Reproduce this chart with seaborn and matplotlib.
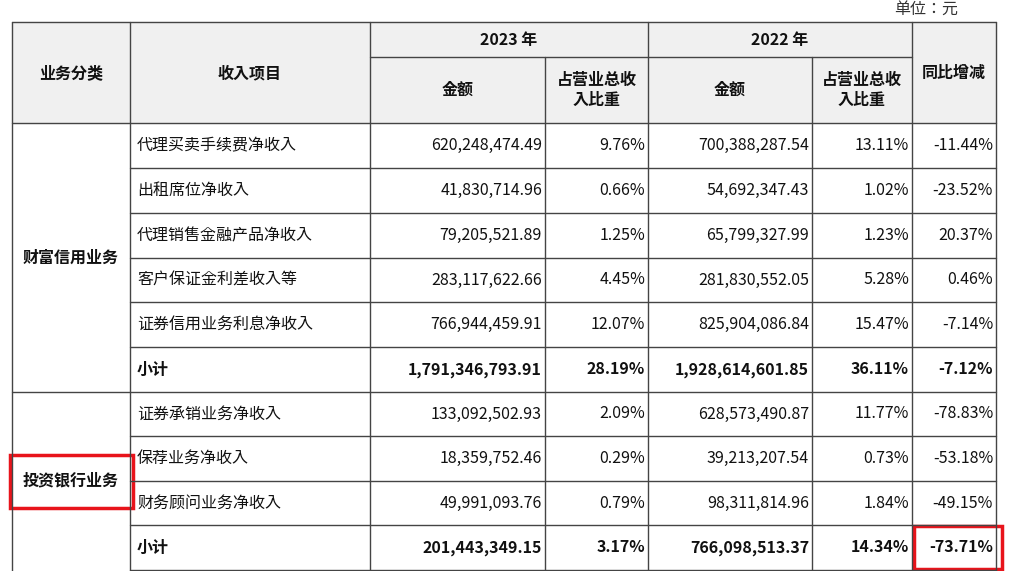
import matplotlib
matplotlib.use("Agg")
import matplotlib.pyplot as plt
from matplotlib.patches import Rectangle
from matplotlib import font_manager as fm
import seaborn as sns

sns.set_style("white")
cands = [f for f in fm.findSystemFonts() if "CJK" in f or "cjk" in f.lower()]
for f in cands:
    try:
        fm.fontManager.addfont(f)
    except Exception:
        pass
names = {fm.FontProperties(fname=f).get_name() for f in cands}
FONT = [n for n in ["Noto Sans CJK SC", "Noto Sans CJK JP", "Noto Sans CJK TC", "Noto Sans CJK KR"] if n in names] or ["Noto Sans CJK SC"]
FONT = FONT + ["DejaVu Sans"]
plt.rcParams["font.family"] = FONT

items = ["代理买卖手续费净收入", "出租席位净收入", "代理销售金融产品净收入", "客户保证金利差收入等",
         "证券信用业务利息净收入", "小计", "证券承销业务净收入", "保荐业务净收入", "财务顾问业务净收入", "小计"]
amt_2023 = ["620,248,474.49", "41,830,714.96", "79,205,521.89", "283,117,622.66", "766,944,459.91",
            "1,791,346,793.91", "133,092,502.93", "18,359,752.46", "49,991,093.76", "201,443,349.15"]
pct_2023 = ["9.76%", "0.66%", "1.25%", "4.45%", "12.07%", "28.19%", "2.09%", "0.29%", "0.79%", "3.17%"]
amt_2022 = ["700,388,287.54", "54,692,347.43", "65,799,327.99", "281,830,552.05", "825,904,086.84",
            "1,928,614,601.85", "628,573,490.87", "39,213,207.54", "98,311,814.96", "766,098,513.37"]
pct_2022 = ["13.11%", "1.02%", "1.23%", "5.28%", "15.47%", "36.11%", "11.77%", "0.73%", "1.84%", "14.34%"]
yoy = ["-11.44%", "-23.52%", "20.37%", "0.46%", "-7.14%", "-7.12%", "-78.83%", "-53.18%", "-49.15%", "-73.71%"]
groups = [("财富信用业务", 0, 6), ("投资银行业务", 6, 10)]

W, H = 1021, 571
fig = plt.figure(figsize=(W / 100, H / 100), dpi=100)
ax = fig.add_axes([0, 0, 1, 1])
ax.set_xlim(0, W); ax.set_ylim(H, 0); ax.axis("off")

xs = [12, 130, 370, 545, 648, 812, 912, 996]
top, h1, h2 = 22, 57, 123
rows = [123, 168, 213, 258, 302, 347, 392, 436, 481, 525, 570]
lc, lw = "#444444", 1.0
fs = 11.5

ax.add_patch(Rectangle((xs[0], top), xs[-1] - xs[0], h2 - top, color="#f0f0f0", zorder=0))
ax.text(958, 9, "单位：元", ha="right", va="center", fontsize=fs, color="#333")

def hl(y, x0, x1): ax.plot([x0, x1], [y, y], color=lc, lw=lw)
def vl(x, y0, y1): ax.plot([x, x], [y0, y1], color=lc, lw=lw)

hl(top, xs[0], xs[-1]); hl(h1, xs[2], xs[6]); hl(h2, xs[0], xs[-1])
for y in rows[1:]:
    hl(y, xs[1], xs[-1])
hl(392, xs[0], xs[1])
for i, x in enumerate(xs):
    if i in (3, 5):
        vl(x, h1, H)
    else:
        vl(x, top, H)

hdr = dict(ha="center", va="center", fontsize=fs, weight="bold", color="#111")
ax.text((xs[0] + xs[1]) / 2, 73, "业务分类", **hdr)
ax.text((xs[1] + xs[2]) / 2, 73, "收入项目", **hdr)
ax.text((xs[2] + xs[4]) / 2, 40, "2023 年", **hdr)
ax.text((xs[4] + xs[6]) / 2, 40, "2022 年", **hdr)
ax.text((xs[2] + xs[3]) / 2, 90, "金额", **hdr)
ax.text((xs[4] + xs[5]) / 2, 90, "金额", **hdr)
ax.text((xs[3] + xs[4]) / 2, 90, "占营业总收\n入比重", linespacing=1.3, **hdr)
ax.text((xs[5] + xs[6]) / 2, 90, "占营业总收\n入比重", linespacing=1.3, **hdr)
ax.text((xs[6] + xs[7]) / 2, 73, "同比增减", **hdr)

for name, a, b in groups:
    yc = (rows[a] + rows[b]) / 2 if a == 0 else 480
    ax.text((xs[0] + xs[1]) / 2, yc, name, **hdr)

cols = [amt_2023, pct_2023, amt_2022, pct_2022, yoy]
for r in range(10):
    yc = (rows[r] + rows[r + 1]) / 2
    bold = items[r] == "小计"
    kw = dict(va="center", fontsize=fs, color="#111", weight="bold" if bold else "normal")
    ax.text(xs[1] + 7, yc, items[r], ha="left", **kw)
    for c, col in enumerate(cols):
        ax.text(xs[c + 3] - 3, yc, col[r], ha="right", **kw)

ax.add_patch(Rectangle((10, 455), 123, 53, fill=False, ec="#e8141b", lw=2.5))
ax.add_patch(Rectangle((914, 526), 88, 43, fill=False, ec="#e8141b", lw=2.5))

fig.savefig("out.png", dpi=100, facecolor="white")
